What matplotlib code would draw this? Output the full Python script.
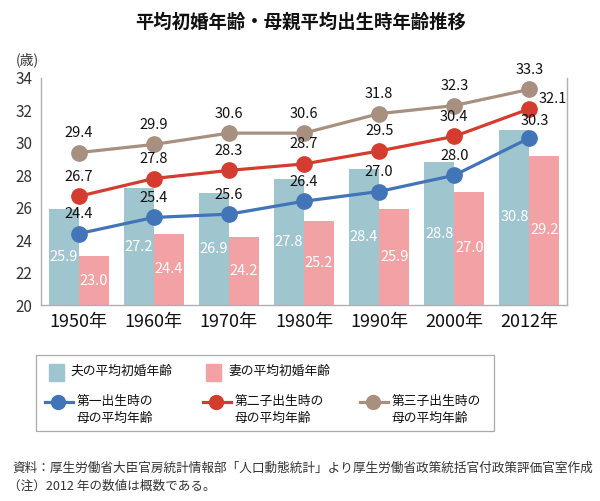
import matplotlib
matplotlib.use("Agg")
import matplotlib.pyplot as plt
from matplotlib.patches import Rectangle
from matplotlib.lines import Line2D
import numpy as np

plt.rcParams['font.family'] = ['Noto Sans CJK JP', 'DejaVu Sans']

years = ["1950年", "1960年", "1970年", "1980年", "1990年", "2000年", "2012年"]
husband = [25.9, 27.2, 26.9, 27.8, 28.4, 28.8, 30.8]
wife = [23.0, 24.4, 24.2, 25.2, 25.9, 27.0, 29.2]
first_child = [24.4, 25.4, 25.6, 26.4, 27.0, 28.0, 30.3]
second_child = [26.7, 27.8, 28.3, 28.7, 29.5, 30.4, 32.1]
third_child = [29.4, 29.9, 30.6, 30.6, 31.8, 32.3, 33.3]

title = "平均初婚年齢・母親平均出生時年齢推移"
legend_labels = ["夫の平均初婚年齢", "妻の平均初婚年齢",
                 "第一出生時の\n母の平均年齢", "第二子出生時の\n母の平均年齢", "第三子出生時の\n母の平均年齢"]
note1 = "資料：厚生労働省大臣官房統計情報部「人口動態統計」より厚生労働省政策統括官付政策評価官室作成"
note2 = "（注）2012 年の数値は概数である。"

c_husband = "#9fc6cf"
c_wife = "#f2a1a5"
c_first = "#4274b8"
c_second = "#d33c2f"
c_third = "#a89080"
txt = "#111111"

W, H = 600, 501
fig = plt.figure(figsize=(6, 5.01), dpi=100)
ax = fig.add_axes([41 / W, 1 - 305 / H, (567 - 41) / W, (305 - 78) / H])

x = np.arange(len(years))
bw = 0.4
ax.bar(x - bw / 2, husband, width=bw, color=c_husband, zorder=2)
ax.bar(x + bw / 2, wife, width=bw, color=c_wife, zorder=2)
for xi, v in zip(x, husband):
    ax.text(xi - bw / 2, (20 + v) / 2, f"{v:.1f}", ha="center", va="center",
            color="white", fontsize=10.5, zorder=5)
for xi, v in zip(x, wife):
    ax.text(xi + bw / 2, (20 + v) / 2, f"{v:.1f}", ha="center", va="center",
            color="white", fontsize=10.5, zorder=5)

for vals, col in [(first_child, c_first), (second_child, c_second), (third_child, c_third)]:
    ax.plot(x, vals, color=col, lw=2.3, marker="o", markersize=11, zorder=4)

def lab(xi, v, dx=0, dy=9):
    ax.annotate(f"{v:.1f}", (xi, v), xytext=(dx, dy), textcoords="offset points",
                ha="center", va="bottom", fontsize=10.5, color=txt, zorder=6)

for i in range(len(years)):
    if i == len(years) - 1:
        lab(x[i], third_child[i])
        lab(x[i], second_child[i], dx=17, dy=2)
        lab(x[i], first_child[i], dx=4, dy=7)
    else:
        lab(x[i], third_child[i])
        lab(x[i], second_child[i])
        lab(x[i], first_child[i])

ax.set_xlim(-0.5, 6.5)
ax.set_ylim(20, 34)
ax.set_yticks(np.arange(20, 35, 2))
ax.set_xticks(x)
ax.set_xticklabels(years, fontsize=13, color=txt)
ax.tick_params(axis="y", labelsize=11, colors="#333333", length=0, pad=6)
ax.tick_params(axis="x", length=0, pad=6)
ax.spines["top"].set_visible(False)
for s in ["left", "bottom", "right"]:
    ax.spines[s].set_color("#b0b0b0")
    ax.spines[s].set_linewidth(1.0)

fig.text(27 / W, 1 - 60 / H, "(歳)", fontsize=10, color="#333333", ha="center", va="center")
fig.text(301 / W, 1 - 22 / H, title, fontsize=13.2, fontweight="bold", ha="center",
         va="center", color=txt)

# legend box
fig.add_artist(Rectangle((36 / W, 1 - 431 / H), (494 - 36) / W, (431 - 355) / H,
                         transform=fig.transFigure, fill=False, edgecolor="#aaaaaa", lw=0.9))
fig.add_artist(Rectangle((49 / W, 1 - 381 / H), 15 / W, 17 / H, transform=fig.transFigure,
                         color=c_husband))
fig.add_artist(Rectangle((206 / W, 1 - 381 / H), 15 / W, 17 / H, transform=fig.transFigure,
                         color=c_wife))
fig.text(70 / W, 1 - 371 / H, legend_labels[0], fontsize=9.2, va="center", color=txt)
fig.text(228 / W, 1 - 371 / H, legend_labels[1], fontsize=9.2, va="center", color=txt)
for (x0, col, lbl) in [(45, c_first, legend_labels[2]), (203, c_second, legend_labels[3]),
                       (360, c_third, legend_labels[4])]:
    fig.add_artist(Line2D([x0 / W, (x0 + 28) / W], [1 - 402 / H, 1 - 402 / H],
                          transform=fig.transFigure, color=col, lw=2.3))
    fig.add_artist(Line2D([(x0 + 13) / W], [1 - 402 / H], transform=fig.transFigure,
                          color=col, marker="o", markersize=10))
    fig.text((x0 + 32) / W, 1 - 410 / H, lbl, fontsize=9.2, va="center", color=txt,
             linespacing=1.45)

fig.text(12 / W, 1 - 468 / H, note1, fontsize=9.1, va="center", color="#333333")
fig.text(8 / W, 1 - 486 / H, note2, fontsize=9.1, va="center", color="#333333")

fig.savefig("out.png", dpi=100)
